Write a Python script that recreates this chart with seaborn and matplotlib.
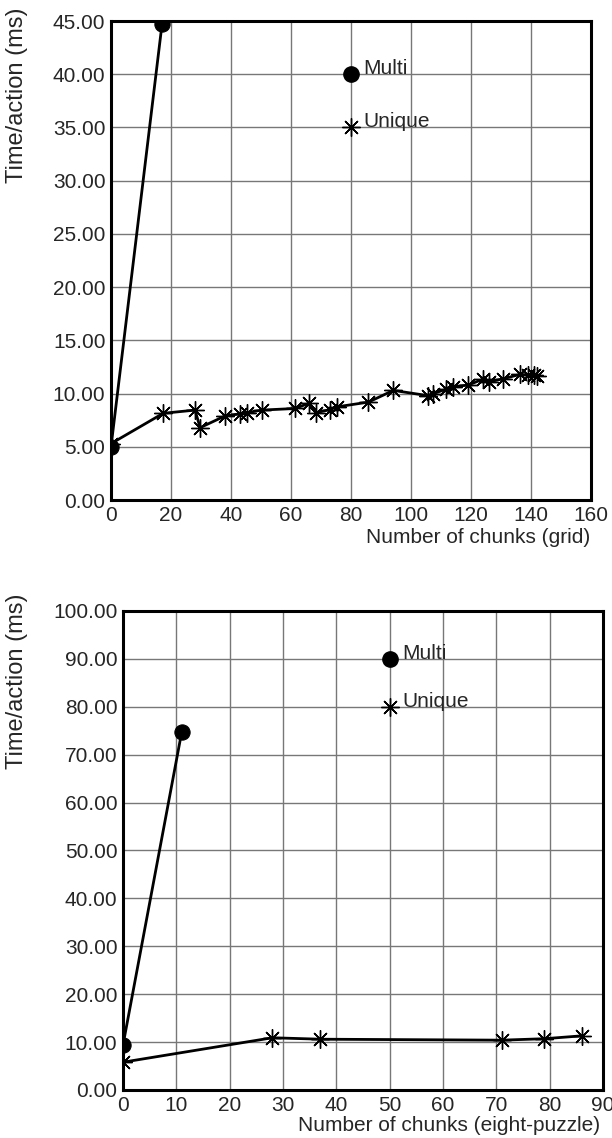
import matplotlib
matplotlib.use("Agg")
import matplotlib.pyplot as plt
import seaborn as sns
import pandas as pd

# grid domain
grid_multi_chunks = [0, 17]
grid_multi_time = [5.0, 44.7]
grid_unique_chunks = [0, 17.4, 28, 29.7, 38, 43, 45.2, 50.2, 61.3, 66.1, 68.3, 73,
                      75.2, 85.8, 94.1, 105.8, 107.4, 111.6, 114, 119, 124, 126,
                      130.8, 136.3, 138.9, 141, 142]
grid_unique_time = [5.3, 8.15, 8.45, 6.8, 7.9, 8.1, 8.2, 8.45, 8.6, 9.1, 8.2, 8.5,
                    8.75, 9.2, 10.3, 9.8, 10.0, 10.4, 10.65, 10.8, 11.35, 11.1,
                    11.4, 11.8, 11.75, 11.75, 11.7]

# eight-puzzle domain
puzzle_multi_chunks = [0, 11]
puzzle_multi_time = [9.4, 74.7]
puzzle_unique_chunks = [0, 28, 37, 71, 79, 86]
puzzle_unique_time = [5.8, 10.9, 10.6, 10.4, 10.7, 11.3]

sns.set_style("white")
plt.rcParams['font.family'] = ['Liberation Sans', 'DejaVu Sans']

star = (8, 2, 0)


def draw_panel(ax, mx, my, ux, uy, xmax, xstep, ymax, ystep, xlabel,
               legend_x, legend_y, text_dx, ylab_pos, xlab_pos):
    multi = pd.DataFrame({"chunks": mx, "time": my})
    unique = pd.DataFrame({"chunks": ux, "time": uy})
    sns.lineplot(data=multi, x="chunks", y="time", sort=False, estimator=None,
                 color="black", lw=2, marker="o", markersize=11,
                 markeredgecolor="black", ax=ax, zorder=3)
    sns.lineplot(data=unique, x="chunks", y="time", sort=False, estimator=None,
                 color="black", lw=2, marker=star, markersize=13,
                 markeredgecolor="black", markeredgewidth=1.0, ax=ax, zorder=3)

    # in-plot legend
    ax.plot(legend_x, legend_y[0], marker="o", color="black", markersize=11, zorder=4)
    ax.plot(legend_x, legend_y[1], marker=star, color="black", markersize=13,
            markeredgewidth=1.0, zorder=4)
    ax.text(legend_x + text_dx, legend_y[0], "Multi", fontsize=15, va="baseline")
    ax.text(legend_x + text_dx, legend_y[1], "Unique", fontsize=15, va="baseline")

    ax.set_xlim(0, xmax)
    ax.set_ylim(0, ymax)
    ax.set_xticks(range(0, xmax + 1, xstep))
    yt = [i * ystep for i in range(int(round(ymax / ystep)) + 1)]
    ax.set_yticks(yt)
    ax.set_yticklabels([f"{v:.2f}" for v in yt])
    ax.grid(True, color="#777777", lw=1.0)
    ax.set_axisbelow(True)
    for s in ax.spines.values():
        s.set_visible(True)
        s.set_color("black")
        s.set_linewidth(2.2)
    ax.tick_params(axis="both", labelsize=15, length=3, width=1, color="black",
                   direction="out", pad=1)
    ax.set_ylabel("Time/action (ms)", fontsize=17)
    ax.yaxis.set_label_coords(*ylab_pos)
    ax.yaxis.label.set_va("center")
    ax.set_xlabel(xlabel, fontsize=15, ha="right")
    ax.xaxis.set_label_coords(*xlab_pos)
    ax.xaxis.label.set_va("center")


fig = plt.figure(figsize=(6.12, 11.38), dpi=100)
ax1 = fig.add_axes([0.1814, 0.5606, 0.7843, 0.4209])
ax2 = fig.add_axes([0.2010, 0.0422, 0.7843, 0.4209])

draw_panel(ax1, grid_multi_chunks, grid_multi_time, grid_unique_chunks, grid_unique_time,
           160, 20, 45, 5, "Number of chunks (grid)",
           80, (40, 35), 4, (-0.195, 0.846), (0.998, -0.079))
draw_panel(ax2, puzzle_multi_chunks, puzzle_multi_time, puzzle_unique_chunks, puzzle_unique_time,
           90, 10, 100, 10, "Number of chunks (eight-puzzle)",
           50, (90, 80), 2.3, (-0.22, 0.854), (0.994, -0.075))

fig.savefig("out.png", dpi=100)
